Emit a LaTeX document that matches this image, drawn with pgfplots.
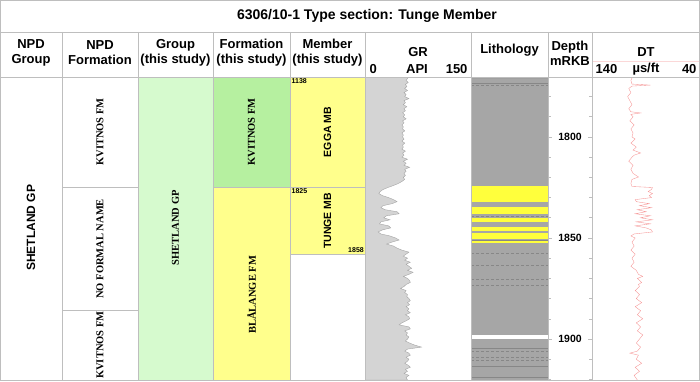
\documentclass[border=0pt]{standalone}
\usepackage{pgfplots}
\pgfplotsset{compat=1.18}
\usepackage{pgfplotstable}
\usepackage{fontspec}
\setmainfont{Liberation Sans}
\newfontfamily\serifb{Liberation Serif}
\definecolor{tline}{RGB}{190,190,190}
\definecolor{grpgreen}{RGB}{214,250,206}
\definecolor{kvgreen}{RGB}{182,240,160}
\definecolor{fmyellow}{RGB}{255,255,140}
\definecolor{lityellow}{RGB}{255,255,60}
\definecolor{litgray}{RGB}{166,166,166}
\definecolor{litline}{RGB}{135,135,135}
\definecolor{grfill}{RGB}{212,212,212}
\definecolor{gredge}{RGB}{165,165,165}
\definecolor{dtred}{RGB}{245,145,145}

\pgfplotstableread{
api depth
0 1770.3
62 1770.3
60 1771
58 1772
61 1773
57 1774
59 1775
56 1776
60 1777
55 1778
58 1779
56 1780
62 1781
55 1782
57 1783
54 1784
59 1785
55 1786
57 1787
53 1788
56 1789
54 1790
58 1791
53 1792
55 1793
52 1794
54 1795
53 1796
56 1797
52 1798
54 1799
53 1800
55 1801
52 1802
56 1803
53 1804
54 1805
52 1806
57 1807
53 1808
55 1809
52 1810
60 1811
54 1812
58 1813
55 1814
63 1815
56 1816
58 1817
55 1818
57 1819
54 1820
56 1821
52 1822
47 1823
40 1824
32 1825
25 1826
21 1827
19 1828
24 1829
33 1830
40 1831
45 1832
38 1833
25 1834
22 1835
28 1836
45 1837
48 1838
30 1839
26 1840
35 1841
22 1842
20 1843
33 1844
36 1845
24 1846
18 1847
22 1848
35 1849
43 1850
48 1851
38 1852
30 1853
40 1854
45 1855
52 1856
62 1857
58 1858
54 1859
60 1860
56 1861
64 1862
58 1863
62 1864
66 1865
60 1866
68 1867
62 1868
54 1869
60 1870
63 1871
64 1872
58 1873
55 1874
50 1875
58 1876
56 1877
60 1878
59 1879
62 1880
64 1881
60 1882
63 1883
58 1884
62 1885
60 1886
64 1887
57 1888
62 1889
63 1890
58 1891
52 1892
48 1893
62 1894
64 1895
56 1896
60 1897
58 1898
62 1899
60 1900
57 1901
63 1902
70 1903
80 1904
60 1905
56 1906
62 1907
64 1908
58 1909
62 1910
60 1911
56 1912
61 1913
64 1914
57 1915
60 1916
55 1917
62 1918
58 1919
60 1920.3
0 1920.3
}\grtab

\pgfplotstableread{
dt depth
104 1770.3
103 1771
104 1772
103 1773.8
86 1774.3
103 1774.8
106 1776
104 1778
107 1780
105 1782
103 1784
106 1786
104 1787.5
95 1788.1
104 1788.8
102 1790
105 1792
101 1794
104 1796
102 1798
103 1800
100 1801
104 1803
99 1805
102 1806.5
95 1807.9
101 1809
103 1810
106 1812
102 1814
104 1816
102 1818
97 1819.8
103 1821
104 1823
103 1824.5
84 1825
85 1826
88 1827
84 1828
87 1829
85 1830
100 1831
99 1832
87 1833
96 1834
85 1835
98 1836
90 1837
100 1838
86 1839
95 1840
84 1841
99 1842
86 1843
100 1844
90 1845
85 1846
84 1847
101 1848
104 1849
100 1850
103 1852
101 1854
104 1856
100 1858
103 1860
101 1862
104 1864
99 1866
97 1868
93 1869
98 1870
94 1872
97 1873
96 1874
100 1876
96 1878
99 1880
94 1882
100 1884
95 1886
98 1888
93 1890
99 1892
95 1894
98 1896
93 1898
96 1900
99 1902
95 1904
98 1906
105 1907
97 1908
99 1910
94 1912
100 1914
96 1916
101 1918
98 1920.3
}\dttab

\pgfplotsset{
  track/.style={scale only axis, anchor=north west, height=303pt,
    ymin=1770.3, ymax=1920.3, y dir=reverse,
    axis line style={draw=none}, xtick=\empty, ytick=\empty},
}
\newcommand\hdr{\fontsize{13}{15}\selectfont\bfseries}
\newcommand\rotsf{\fontsize{10.5}{12}\selectfont\bfseries}
\newcommand\rotse{\serifb\fontsize{10.5}{12}\selectfont\bfseries}

\begin{document}
\begin{tikzpicture}
\useasboundingbox (0,0) rectangle (700pt,-382pt);

% ---------- zones (formations, members) ----------
\begin{axis}[track, at={(0pt,-77pt)}, width=700pt, xmin=0, xmax=700]
\addplot[fill=grpgreen, draw=none] coordinates {(138,1770.3)(213,1770.3)(213,1920.3)(138,1920.3)} --cycle;
\addplot[fill=kvgreen, draw=none] coordinates {(213,1770.3)(290,1770.3)(290,1825)(213,1825)} --cycle;
\addplot[fill=fmyellow, draw=none] coordinates {(213,1825)(290,1825)(290,1920.3)(213,1920.3)} --cycle;
\addplot[fill=fmyellow, draw=none] coordinates {(290,1770.3)(365.5,1770.3)(365.5,1858)(290,1858)} --cycle;
\addplot[tline, line width=0.8pt] coordinates {(62,1825)(138,1825)};
\addplot[tline, line width=0.8pt] coordinates {(62,1885.6)(138,1885.6)};
\addplot[tline, line width=0.8pt] coordinates {(213,1825)(365.5,1825)};
\addplot[tline, line width=0.8pt] coordinates {(290,1858)(365.5,1858)};
\node[rotate=90, font=\fontsize{12}{14}\selectfont\bfseries] at (31,1845) {SHETLAND GP};
\node[rotate=90, font=\rotse] at (100,1797.5) {KVITNOS FM};
\node[rotate=90, font=\rotse] at (100,1855.4) {NO FORMAL NAME};
\node[rotate=90, font=\rotse] at (100,1903) {KVITNOS FM};
\node[rotate=90, font=\rotse] at (175.5,1845) {SHETLAND GP};
\node[rotate=90, font=\rotse] at (251.5,1797.5) {KVITNOS FM};
\node[rotate=90, font=\rotse] at (251.5,1878.2) {BLÅLANGE FM};
\node[rotate=90, font=\rotsf] at (327.5,1797.5) {EGGA MB};
\node[rotate=90, font=\rotsf] at (327.5,1841.5) {TUNGE MB};
\node[anchor=north west, inner sep=1pt, font=\fontsize{7}{8}\selectfont\bfseries] at (290.5,1770.3) {1138};
\node[anchor=north west, inner sep=1pt, font=\fontsize{7}{8}\selectfont\bfseries] at (290.5,1825) {1825};
\node[anchor=south east, inner sep=1pt, font=\fontsize{7}{8}\selectfont\bfseries] at (365,1858) {1858};
\end{axis}

% ---------- GR ----------
\begin{axis}[track, at={(365.5pt,-77pt)}, width=105pt, xmin=0, xmax=150]
\addplot[fill=grfill, draw=gredge, line width=0.4pt] table[x=api, y=depth] {\grtab};
\end{axis}

% ---------- Lithology ----------
\begin{axis}[track, at={(471pt,-77pt)}, width=77pt, xmin=0, xmax=1]
\addplot[fill=litgray, draw=none] coordinates {(0,1770.3)(1,1770.3)(1,1920.3)(0,1920.3)} --cycle;
\addplot[fill=litline!80, draw=none] coordinates {(0,1770.3)(1,1770.3)(1,1771.2)(0,1771.2)} --cycle;
\addplot[fill=lityellow, draw=none] coordinates {(0,1824.3)(1,1824.3)(1,1832.0)(0,1832.0)} --cycle;
\addplot[fill=lityellow, draw=none] coordinates {(0,1834.5)(1,1834.5)(1,1838.1)(0,1838.1)} --cycle;
\addplot[fill=lityellow, draw=none] coordinates {(0,1840.0)(1,1840.0)(1,1841.9)(0,1841.9)} --cycle;
\addplot[fill=lityellow, draw=none] coordinates {(0,1844.4)(1,1844.4)(1,1846.5)(0,1846.5)} --cycle;
\addplot[fill=lityellow, draw=none] coordinates {(0,1847.5)(1,1847.5)(1,1850.6)(0,1850.6)} --cycle;
\addplot[fill=lityellow, draw=none] coordinates {(0,1851.5)(1,1851.5)(1,1852.6)(0,1852.6)} --cycle;
\addplot[fill=white, draw=none] coordinates {(0,1898.2)(1,1898.2)(1,1899.9)(0,1899.9)} --cycle;
\foreach \d in {1773.4,1851.0,1904.6,1913.7,1918.7}{
  \edef\tmp{\noexpand\addplot[litline, line width=0.5pt] coordinates {(0,\d)(1,\d)};}\tmp
}
\foreach \d in {1774.6,1839.1,1857.6,1863.4,1870.4,1873.6,1905.9,1908.8,1910.4}{
  \edef\tmp{\noexpand\addplot[litline, line width=0.5pt, dash pattern=on 3pt off 2pt] coordinates {(0,\d)(1,\d)};}\tmp
}
\end{axis}

% ---------- Depth ----------
\begin{axis}[scale only axis, anchor=north west, at={(548pt,-77pt)}, width=44pt, height=303pt,
  ymin=1770.3, ymax=1920.3, y dir=reverse, xmin=0, xmax=1,
  axis line style={draw=none}, xtick=\empty,
  ytick={1800,1850,1900},
  minor ytick={1780,1790,1810,1820,1830,1840,1860,1870,1880,1890,1910,1920},
  tick align=inside, ytick pos=both, yticklabel pos=left,
  major tick length=4pt, minor tick length=3pt,
  tick style={tline, line width=0.6pt},
  yticklabel style={anchor=center, xshift=22pt, font=\fontsize{10.5}{12}\selectfont\bfseries},
  /pgf/number format/assume math mode=true,
  /pgf/number format/set thousands separator={}]
\end{axis}

% ---------- DT ----------
\begin{axis}[track, at={(592pt,-77pt)}, width=108pt, xmin=40, xmax=140, x dir=reverse]
\addplot[dtred, line width=0.35pt] table[x=dt, y=depth] {\dttab};
\end{axis}

% ---------- table frame ----------
\draw[dtred!35, line width=0.5pt] (592pt,-61pt) -- (700pt,-61pt);
\draw[tline, line width=0.8pt] (0.5pt,-0.5pt) rectangle (699.5pt,-380pt);
\draw[tline, line width=0.8pt] (0pt,-32pt) -- (700pt,-32pt);
\draw[tline, line width=0.8pt] (0pt,-77pt) -- (700pt,-77pt);
\foreach \x in {62,138,213,290,365.5,471,548,592}
  \draw[tline, line width=0.8pt] (\x pt,-32pt) -- (\x pt,-380pt);

% ---------- header texts ----------
\node[font=\fontsize{14}{16}\selectfont\bfseries] at (367pt,-16pt) {6306/10-1 Type section: Tunge Member};
\node[align=center, font=\hdr] at (31pt,-53pt) {NPD\\Group};
\node[align=center, font=\hdr] at (100pt,-53pt) {NPD\\Formation};
\node[align=center, font=\hdr] at (175.5pt,-53pt) {Group\\(this study)};
\node[align=center, font=\hdr] at (251.5pt,-53pt) {Formation\\(this study)};
\node[align=center, font=\hdr] at (327.5pt,-53pt) {Member\\(this study)};
\node[font=\hdr] at (418pt,-52pt) {GR};
\node[font=\hdr, anchor=west] at (366pt,-69pt) {0};
\node[font=\hdr] at (417pt,-69pt) {API};
\node[font=\hdr, anchor=east] at (471pt,-69pt) {150};
\node[font=\hdr] at (509.5pt,-50pt) {Lithology};
\node[align=center, font=\hdr] at (570pt,-53pt) {Depth\\mRKB};
\node[font=\hdr] at (646pt,-52pt) {DT};
\node[font=\hdr, anchor=west] at (592pt,-69pt) {140};
\node[font=\hdr] at (646pt,-69pt) {µs/ft};
\node[font=\hdr, anchor=east] at (700pt,-69pt) {40};
\end{tikzpicture}
\end{document}
